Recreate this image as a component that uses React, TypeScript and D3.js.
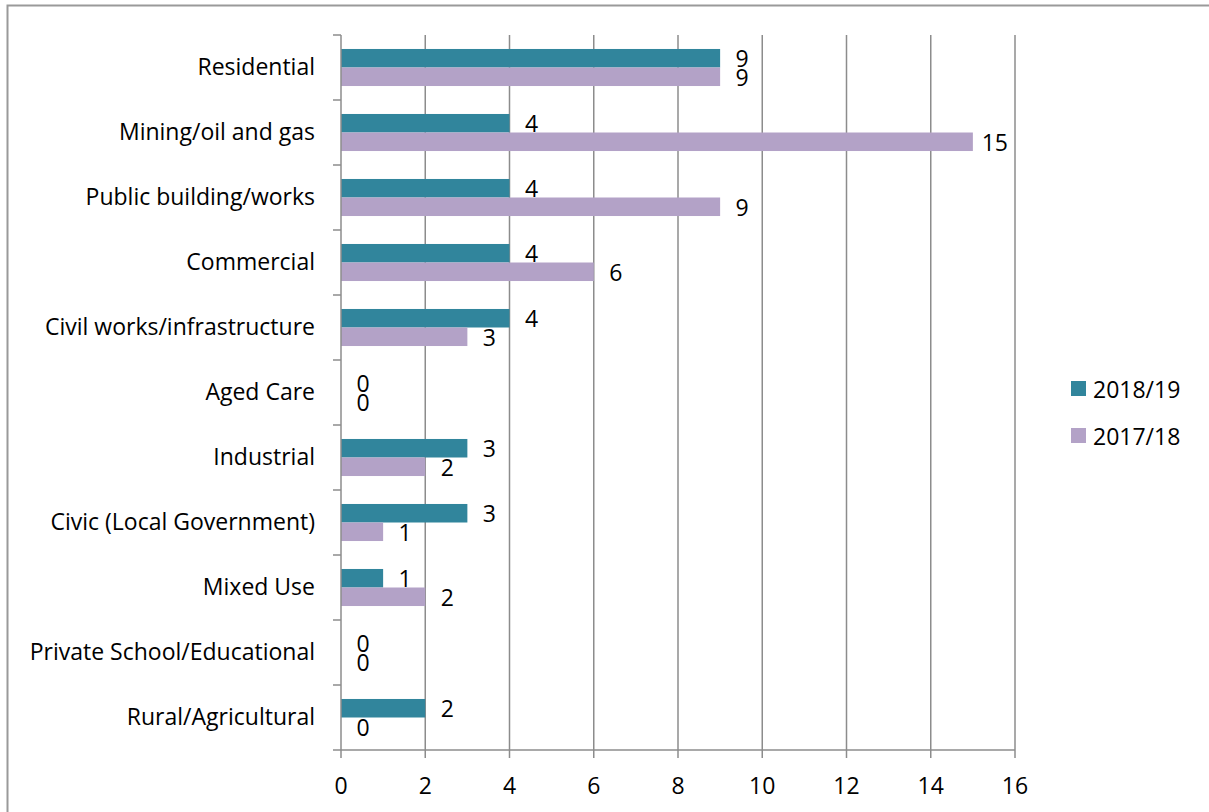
import React from "react";
import * as d3 from "d3";

const categories = [
  "Residential",
  "Mining/oil and gas",
  "Public building/works",
  "Commercial",
  "Civil works/infrastructure",
  "Aged Care",
  "Industrial",
  "Civic (Local Government)",
  "Mixed Use",
  "Private School/Educational",
  "Rural/Agricultural",
];
const values2018 = [9, 4, 4, 4, 4, 0, 3, 3, 1, 0, 2];
const values2017 = [9, 15, 9, 6, 3, 0, 2, 1, 2, 0, 0];
const seriesNames = ["2018/19", "2017/18"];
const seriesColors = ["#31859C", "#B3A2C7"];
const xTicks = [0, 2, 4, 6, 8, 10, 12, 14, 16];

const W = 1209;
const H = 812;
const left = 341;
const right = 1015;
const top = 35;
const bottom = 750;
const FONT = "'Open Sans', sans-serif";
const FS = 23;

export default function App() {
  const x = d3.scaleLinear().domain([0, 16]).range([left, right]);
  const y = d3.scaleBand<string>().domain(categories).range([top, bottom]).paddingInner(0).paddingOuter(0);
  const bw = y.bandwidth();
  const barH = bw * 0.285;
  const series = [values2018, values2017];
  const grid = "#8c8c8c";

  return (
    <div style={{ position: "fixed", left: 0, top: 0 }}>
      <svg width={W} height={H} style={{ display: "block", background: "#fff" }}>
        <rect x={7.5} y={5.5} width={W + 10} height={H + 10} fill="#fff" stroke="#9a9a9a" strokeWidth={2} />
        {/* vertical grid lines */}
        {xTicks.slice(1).map((t) => (
          <line key={"g" + t} x1={x(t)} x2={x(t)} y1={top} y2={bottom} stroke={grid} strokeWidth={1.5} />
        ))}
        {/* bars */}
        {categories.map((c, i) => {
          const cy = (y(c) as number) + bw / 2;
          return series.map((vals, s) => {
            const by = cy - barH + s * barH;
            return (
              <rect
                key={c + s}
                x={x(0)}
                y={by}
                width={x(vals[i]) - x(0)}
                height={barH}
                fill={seriesColors[s]}
              />
            );
          });
        })}
        {/* axes */}
        <line x1={left} x2={left} y1={top} y2={bottom} stroke={grid} strokeWidth={1.5} />
        <line x1={left - 8} x2={right} y1={bottom} y2={bottom} stroke={grid} strokeWidth={1.5} />
        {categories.map((c) => (
          <line key={"t" + c} x1={left - 8} x2={left} y1={y(c) as number} y2={y(c) as number} stroke={grid} strokeWidth={1.5} />
        ))}
        {xTicks.map((t) => (
          <line key={"xt" + t} x1={x(t)} x2={x(t)} y1={bottom} y2={bottom + 8} stroke={grid} strokeWidth={1.5} />
        ))}
        {/* x tick labels */}
        {xTicks.map((t) => (
          <text key={"xl" + t} x={x(t)} y={785} textAnchor="middle" dominantBaseline="central" fontFamily={FONT} fontSize={FS} fill="#000">
            {t}
          </text>
        ))}
        {/* category labels */}
        {categories.map((c) => (
          <text
            key={"cl" + c}
            x={left - 26}
            y={(y(c) as number) + bw / 2 - 2}
            textAnchor="end"
            dominantBaseline="central"
            fontFamily={FONT}
            fontSize={FS}
            fill="#000"
          >
            {c}
          </text>
        ))}
        {/* value labels */}
        {categories.map((c, i) => {
          const cy = (y(c) as number) + bw / 2;
          return series.map((vals, s) => {
            const ly = cy - barH / 2 + s * barH;
            return (
              <text
                key={"vl" + c + s}
                x={x(vals[i]) + 22}
                y={ly}
                textAnchor="middle"
                dominantBaseline="central"
                fontFamily={FONT}
                fontSize={FS}
                fill="#000"
              >
                {vals[i]}
              </text>
            );
          });
        })}
        {/* legend */}
        {seriesNames.map((n, s) => (
          <g key={"lg" + n} transform={`translate(1071, ${381 + s * 47})`}>
            <rect x={0} y={0} width={15} height={15} fill={seriesColors[s]} />
            <text x={22} y={7.5} dominantBaseline="central" fontFamily={FONT} fontSize={FS} fill="#000">
              {n}
            </text>
          </g>
        ))}
      </svg>
    </div>
  );
}
